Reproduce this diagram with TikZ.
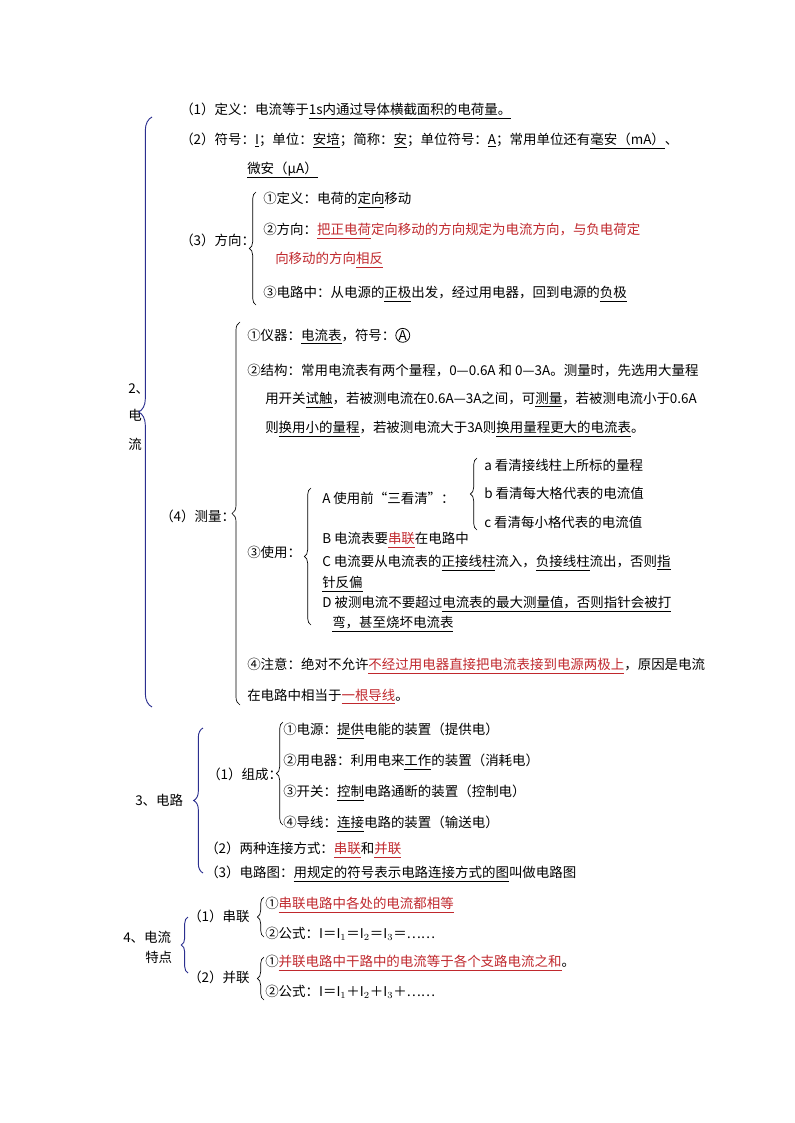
\documentclass[tikz,border=0pt]{standalone}
\usepackage{fontspec}
\setmainfont{Noto Sans CJK SC}
\usetikzlibrary{decorations.pathreplacing}
\definecolor{myred}{HTML}{C0282D}
\definecolor{myblue}{HTML}{2B2F8F}
\newcommand{\ul}[1]{$\underline{\hbox{#1}}$}
\newcommand{\rd}[1]{{\color{myred}#1}}
\newcommand{\rul}[1]{{\color{myred}\ul{#1}}}
\begin{document}
\begin{tikzpicture}[x=0.75pt,y=-0.75pt,
  txt/.style={anchor=west,inner sep=0pt,font=\fontsize{10.1pt}{11pt}\selectfont},
  br/.style={decorate,decoration={brace,amplitude=5pt,mirror},line width=0.5pt},
  bbr/.style={br,draw=myblue,line width=0.7pt}]
\useasboundingbox (0,0) rectangle (794,1123);
% section 2
\node[txt] (l1) at (180,111) {（1）定义：电流等于\ul{1s内通过导体横截面积的电荷量。}};
\node[txt] (l2) at (180,141) {（2）符号：\ul{I}；单位：\ul{安培}；简称：\ul{安}；单位符号：\ul{A}；常用单位还有\ul{毫安（mA）}、};
\node[txt] (l3) at (247,170) {\ul{微安（μA）}};
\node[txt] (d1) at (263,200) {①定义：电荷的\ul{定向}移动};
\node[txt] (d2) at (263,231) {②方向：\rul{把正电荷}\rd{定向移动的方向规定为电流方向，与负电荷定}};
\node[txt] (d2b) at (275,260) {\rd{向移动的方向}\rul{相反}};
\node[txt] (d3) at (263,294) {③电路中：从电源的\ul{正极}出发，经过用电器，回到电源的\ul{负极}};
\node[txt] (fx) at (180,240) {（3）方向：};
\node[txt] (m1) at (247,336) {①仪器：\ul{电流表}，符号：\tikz[baseline=(ca.base)]\node[draw,circle,inner sep=0.3pt,line width=0.6pt](ca){A};};
\begin{scope}
\clip (0,0) rectangle (720,1123);
\node[txt] (m2) at (247,371) {②结构：常用电流表有两个量程，0—0.6A 和 0—3A。测量时，先选用大量程};
\node[txt] (m2b) at (265,400) {用开关\ul{试触}，若被测电流在0.6A—3A之间，可\ul{测量}，若被测电流小于0.6A};
\node[txt] (m4) at (247,666) {④注意：绝对不允许\rul{不经过用电器直接把电流表接到电源两极上}，原因是电流};
\end{scope}
\node[txt] (m2c) at (265,429) {则\ul{换用小的量程}，若被测电流大于3A则\ul{换用量程更大的电流表}。};
\node[txt] (ua) at (484,465) {a 看清接线柱上所标的量程};
\node[txt] (ub) at (484,493) {b 看清每大格代表的电流值};
\node[txt] (uc) at (484,522) {c 看清每小格代表的电流值};
\node[txt] (uA) at (322,498) {A 使用前“三看清”：};
\node[txt] (uB) at (322,540) {B 电流表要\rul{串联}在电路中};
\node[txt] (uC) at (322,563) {C 电流要从电流表的\ul{正接线柱}流入，\ul{负接线柱}流出，否则\ul{指}};
\node[txt] (uC2) at (322,584) {\ul{针反偏}};
\node[txt] (uD) at (322,604) {D 被测电流不要超过\ul{电流表的最大测量值，否则指针会被打}};
\node[txt] (uD2) at (332,624) {\ul{弯，甚至烧坏电流表}};
\node[txt] (sy) at (247,552) {③使用：};
\node[txt] (m4b) at (247,697) {在电路中相当于\rul{一根导线}。};
\node[txt] (cl) at (160,516) {（4）测量：};
\node[txt] (s2a) at (128,389) {2、};
\node[txt] (s2b) at (128,415) {电};
\node[txt] (s2c) at (128,444) {流};
% braces section 2
\coordinate (b2t) at (152,117); \coordinate (b2b) at (152,707);
\draw[bbr,decoration={amplitude=10pt}] (b2t) -- (b2b);
\coordinate (b3t) at (256,192); \coordinate (b3b) at (256,305);
\draw[br] (b3t) -- (b3b);
\coordinate (b4t) at (240,322); \coordinate (b4b) at (240,705);
\draw[br,decoration={amplitude=6pt}] (b4t) -- (b4b);
\coordinate (b5t) at (311,488); \coordinate (b5b) at (311,625);
\draw[br] (b5t) -- (b5b);
\coordinate (b6t) at (477,458); \coordinate (b6b) at (477,530);
\draw[br] (b6t) -- (b6b);
% section 3
\node[txt] (s3) at (135,800) {3、电路};
\node[txt] (c1) at (207,774) {（1）组成：};
\node[txt] (e1) at (283,731) {①电源：\ul{提供}电能的装置（提供电）};
\node[txt] (e2) at (283,762) {②用电器：利用电来\ul{工作}的装置（消耗电）};
\node[txt] (e3) at (283,793) {③开关：\ul{控制}电路通断的装置（控制电）};
\node[txt] (e4) at (283,824) {④导线：\ul{连接}电路的装置（输送电）};
\node[txt] (c2) at (205,850) {（2）两种连接方式：\rul{串联}和\rul{并联}};
\node[txt] (c3) at (205,874) {（3）电路图：\ul{用规定的符号表示电路连接方式的图}叫做电路图};
\coordinate (b7t) at (203,728); \coordinate (b7b) at (203,873);
\draw[bbr,decoration={amplitude=7pt}] (b7t) -- (b7b);
\coordinate (b8t) at (283,722); \coordinate (b8b) at (283,825);
\draw[br] (b8t) -- (b8b);
% section 4
\node[txt] (s4a) at (123,937) {4、电流};
\node[txt] (s4b) at (145,957) {特点};
\node[txt] (p1) at (188,916) {（1）串联};
\node[txt] (p2) at (188,977) {（2）并联};
\node[txt] (q1) at (265,905) {①\rul{串联电路中各处的电流都相等}};
\node[txt] (q2) at (265,934) {②公式：I＝I$_1$＝I$_2$＝I$_3$＝……};
\node[txt] (q3) at (265,963) {①\rul{并联电路中干路中的电流等于各个支路电流之和}。};
\node[txt] (q4) at (265,992) {②公式：I＝I$_1$＋I$_2$＋I$_3$＋……};
\coordinate (b9t) at (188,917); \coordinate (b9b) at (188,973);
\draw[bbr] (b9t) -- (b9b);
\coordinate (b10t) at (264,897); \coordinate (b10b) at (264,937);
\draw[br] (b10t) -- (b10b);
\coordinate (b11t) at (264,957); \coordinate (b11b) at (264,1000);
\draw[br] (b11t) -- (b11b);
\end{tikzpicture}
\end{document}
